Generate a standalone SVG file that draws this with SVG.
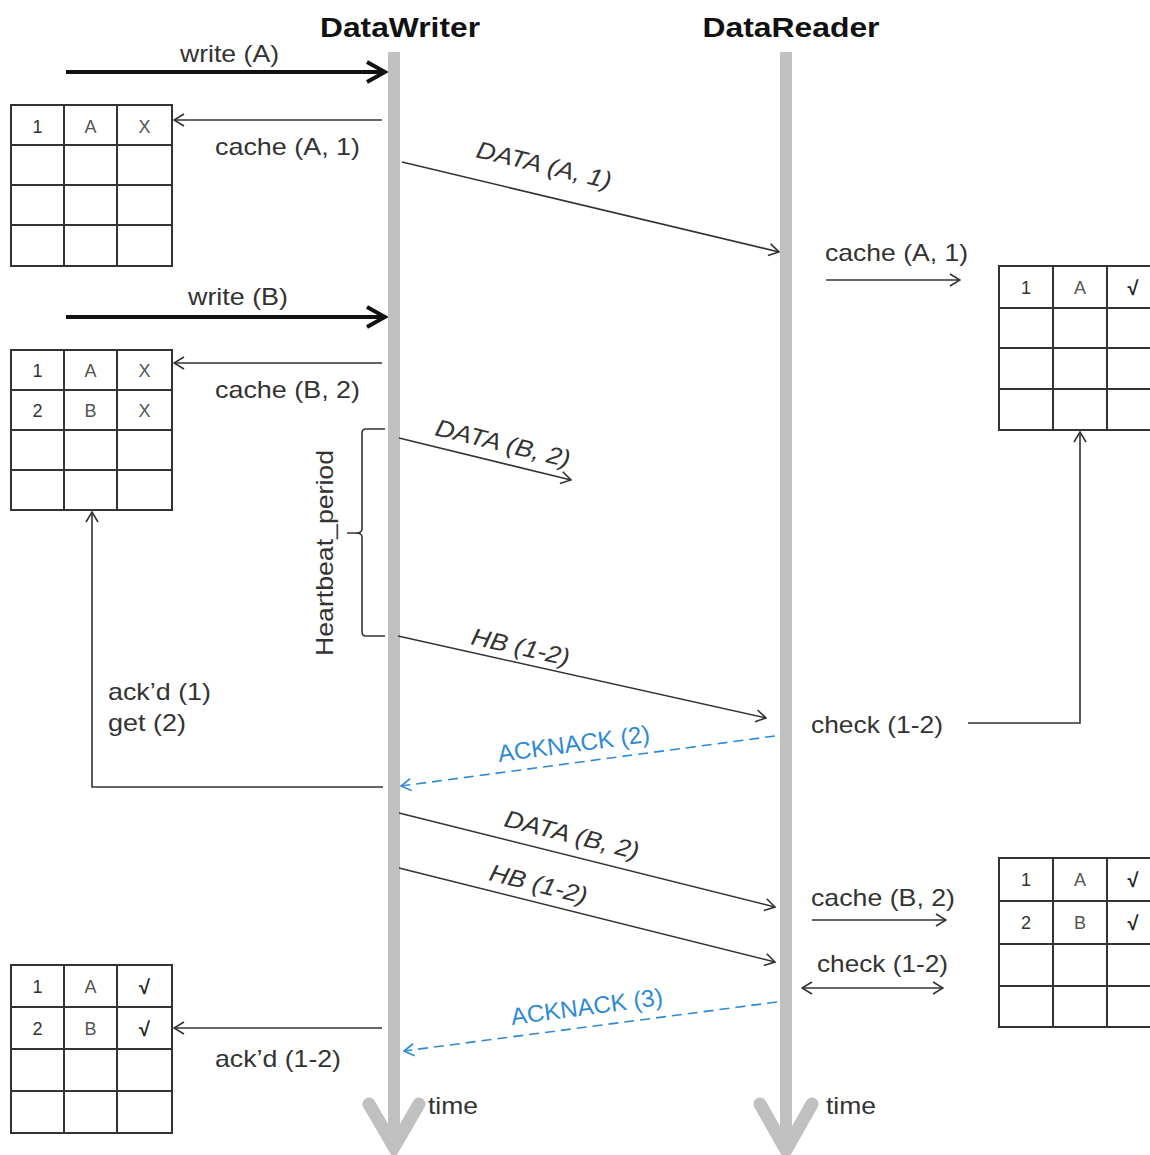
<svg xmlns="http://www.w3.org/2000/svg" width="1150" height="1155" viewBox="0 0 1150 1155">
<style>
.t{font-family:"Liberation Sans",Arial,sans-serif;font-size:24px;fill:#333}
.it{font-style:italic}
.title{font-family:"Liberation Sans",Arial,sans-serif;font-size:28px;font-weight:bold;fill:#111}
.blue{fill:#2f8ad6}
.cell{font-family:"Liberation Sans",Arial,sans-serif;font-size:18px;fill:#555;text-anchor:middle}
.cellD{fill:#333}
.chk{fill:#222;font-weight:bold;font-size:20px}
.ln{stroke:#333;stroke-width:1.6;fill:none}
.dash{stroke:#2f8ad6;stroke-width:1.6;fill:none;stroke-dasharray:10,6}
.tb{stroke:#333;stroke-width:2;fill:#fff}
.tbl{stroke:#333;stroke-width:2}
.life{fill:#c0c0c0}
.lhead{stroke:#c0c0c0;stroke-width:13;fill:none;stroke-linecap:round;stroke-linejoin:miter}
</style>
<defs>
<marker id="open" viewBox="0 0 12 14" refX="11" refY="7" markerWidth="12" markerHeight="14" markerUnits="userSpaceOnUse" orient="auto-start-reverse"><path d="M1,1 L11,7 L1,13" fill="none" stroke="#333" stroke-width="1.6"/></marker>
<marker id="openB" viewBox="0 0 12 14" refX="11" refY="7" markerWidth="12" markerHeight="14" markerUnits="userSpaceOnUse" orient="auto-start-reverse"><path d="M1,1 L11,7 L1,13" fill="none" stroke="#2f8ad6" stroke-width="1.6"/></marker>
<marker id="bold" viewBox="0 0 24 24" refX="21" refY="12" markerWidth="24" markerHeight="24" markerUnits="userSpaceOnUse" orient="auto"><path d="M3,2 L21,12 L3,22" fill="none" stroke="#111" stroke-width="4"/></marker>
</defs>

<g id="lifelines">
<g id="writer">
<text class="title" x="400" y="37" text-anchor="middle" textLength="160" lengthAdjust="spacingAndGlyphs">DataWriter</text>
<rect class="life" x="388" y="52" width="12" height="1092"/>
<polyline class="lhead" points="369,1104 394,1147 419,1104"/>
<text class="t" x="428" y="1114" textLength="50" lengthAdjust="spacingAndGlyphs">time</text>
</g>
<g id="reader">
<text class="title" x="791" y="37" text-anchor="middle" textLength="177" lengthAdjust="spacingAndGlyphs">DataReader</text>
<rect class="life" x="780" y="52" width="12" height="1092"/>
<polyline class="lhead" points="760,1104 786,1150 812,1104"/>
<text class="t" x="826" y="1114" textLength="50" lengthAdjust="spacingAndGlyphs">time</text>
</g>
</g>

<g id="table-w1">
<rect class="tb" x="11" y="105" width="161" height="161"/>
<path class="tbl" d="M64,105V266M117,105V266M11,145H172M11,185H172M11,225H172"/>
<text class="cell cellD" x="37.5" y="133">1</text><text class="cell" x="90.5" y="133">A</text><text class="cell" x="144.5" y="133">X</text>
</g>
<g id="table-w2">
<rect class="tb" x="11" y="350" width="161" height="160"/>
<path class="tbl" d="M64,350V510M117,350V510M11,390H172M11,430H172M11,470H172"/>
<text class="cell cellD" x="37.5" y="377">1</text><text class="cell" x="90.5" y="377">A</text><text class="cell" x="144.5" y="377">X</text>
<text class="cell cellD" x="37.5" y="417">2</text><text class="cell" x="90.5" y="417">B</text><text class="cell" x="144.5" y="417">X</text>
</g>
<g id="table-w3">
<rect class="tb" x="11" y="965" width="161" height="168"/>
<path class="tbl" d="M64,965V1133M117,965V1133M11,1007H172M11,1049H172M11,1091H172"/>
<text class="cell cellD" x="37.5" y="993">1</text><text class="cell" x="90.5" y="993">A</text><text class="cell chk" x="144.5" y="994">√</text>
<text class="cell cellD" x="37.5" y="1035">2</text><text class="cell" x="90.5" y="1035">B</text><text class="cell chk" x="144.5" y="1036">√</text>
</g>
<g id="table-r1">
<rect class="tb" x="999" y="266" width="162" height="164"/>
<path class="tbl" d="M1053,266V430M1107,266V430M999,308H1161M999,348H1161M999,389H1161"/>
<text class="cell cellD" x="1026" y="294">1</text><text class="cell" x="1080" y="294">A</text><text class="cell chk" x="1133" y="295">√</text>
</g>
<g id="table-r2">
<rect class="tb" x="999" y="858" width="162" height="169"/>
<path class="tbl" d="M1053,858V1027M1107,858V1027M999,901H1161M999,944H1161M999,986H1161"/>
<text class="cell cellD" x="1026" y="886">1</text><text class="cell" x="1080" y="886">A</text><text class="cell chk" x="1133" y="887">√</text>
<text class="cell cellD" x="1026" y="929">2</text><text class="cell" x="1080" y="929">B</text><text class="cell chk" x="1133" y="930">√</text>
</g>

<g id="heartbeat-period">
<path class="ln" d="M385,429 H366 Q362,429 362,433 V529 Q362,533 356,533 H347 M356,533 Q362,533 362,537 V632 Q362,636 366,636 H385"/>
<text class="t" transform="translate(333,656) rotate(-90)" textLength="206" lengthAdjust="spacingAndGlyphs">Heartbeat_period</text>
</g>

<g id="connectors">
<line x1="66" y1="72" x2="385" y2="72" stroke="#111" stroke-width="4" marker-end="url(#bold)"/>
<text class="t" x="180" y="62" textLength="99" lengthAdjust="spacingAndGlyphs">write (A)</text>

<line class="ln" x1="382" y1="120" x2="174" y2="120" marker-end="url(#open)"/>
<text class="t" x="215" y="155" textLength="145" lengthAdjust="spacingAndGlyphs">cache (A, 1)</text>

<line class="ln" x1="402" y1="162" x2="779" y2="252" marker-end="url(#open)"/>
<text class="t it" transform="translate(475,157) rotate(13.4)" textLength="138" lengthAdjust="spacingAndGlyphs">DATA (A, 1)</text>

<text class="t" x="825" y="261" textLength="143" lengthAdjust="spacingAndGlyphs">cache (A, 1)</text>
<line class="ln" x1="826" y1="280" x2="960" y2="280" marker-end="url(#open)"/>

<line x1="66" y1="317" x2="385" y2="317" stroke="#111" stroke-width="4" marker-end="url(#bold)"/>
<text class="t" x="188" y="305" textLength="100" lengthAdjust="spacingAndGlyphs">write (B)</text>

<line class="ln" x1="382" y1="363" x2="174" y2="363" marker-end="url(#open)"/>
<text class="t" x="215" y="398" textLength="145" lengthAdjust="spacingAndGlyphs">cache (B, 2)</text>

<line class="ln" x1="399" y1="438" x2="571" y2="480" marker-end="url(#open)"/>
<text class="t it" transform="translate(434,435) rotate(13.6)" textLength="138" lengthAdjust="spacingAndGlyphs">DATA (B, 2)</text>

<line class="ln" x1="398" y1="636" x2="766" y2="718" marker-end="url(#open)"/>
<text class="t it" transform="translate(470,644) rotate(12.6)" textLength="100" lengthAdjust="spacingAndGlyphs">HB (1-2)</text>

<text class="t" x="811" y="733" textLength="132" lengthAdjust="spacingAndGlyphs">check (1-2)</text>
<polyline class="ln" points="968,723 1080,723 1080,432" marker-end="url(#open)"/>

<line class="dash" x1="775" y1="736" x2="401" y2="786" marker-end="url(#openB)"/>
<text class="t blue" transform="translate(499,762) rotate(-7.6)" textLength="153" lengthAdjust="spacingAndGlyphs">ACKNACK (2)</text>

<polyline class="ln" points="383,787 92,787 92,512" marker-end="url(#open)"/>
<text class="t" x="108" y="700" textLength="103" lengthAdjust="spacingAndGlyphs">ack’d (1)</text>
<text class="t" x="108" y="731" textLength="78" lengthAdjust="spacingAndGlyphs">get (2)</text>

<line class="ln" x1="399" y1="813" x2="775" y2="907" marker-end="url(#open)"/>
<text class="t it" transform="translate(503,826) rotate(14)" textLength="138" lengthAdjust="spacingAndGlyphs">DATA (B, 2)</text>

<line class="ln" x1="399" y1="868" x2="775" y2="962" marker-end="url(#open)"/>
<text class="t it" transform="translate(488,880) rotate(14)" textLength="100" lengthAdjust="spacingAndGlyphs">HB (1-2)</text>

<text class="t" x="811" y="906" textLength="144" lengthAdjust="spacingAndGlyphs">cache (B, 2)</text>
<line class="ln" x1="812" y1="920" x2="946" y2="920" marker-end="url(#open)"/>

<text class="t" x="817" y="972" textLength="131" lengthAdjust="spacingAndGlyphs">check (1-2)</text>
<line class="ln" x1="802" y1="988" x2="943" y2="988" marker-start="url(#open)" marker-end="url(#open)"/>

<line class="dash" x1="777" y1="1002" x2="404" y2="1051" marker-end="url(#openB)"/>
<text class="t blue" transform="translate(512,1025) rotate(-7.6)" textLength="153" lengthAdjust="spacingAndGlyphs">ACKNACK (3)</text>

<line class="ln" x1="382" y1="1028" x2="174" y2="1028" marker-end="url(#open)"/>
<text class="t" x="215" y="1067" textLength="126" lengthAdjust="spacingAndGlyphs">ack’d (1-2)</text>
</g>
</svg>
